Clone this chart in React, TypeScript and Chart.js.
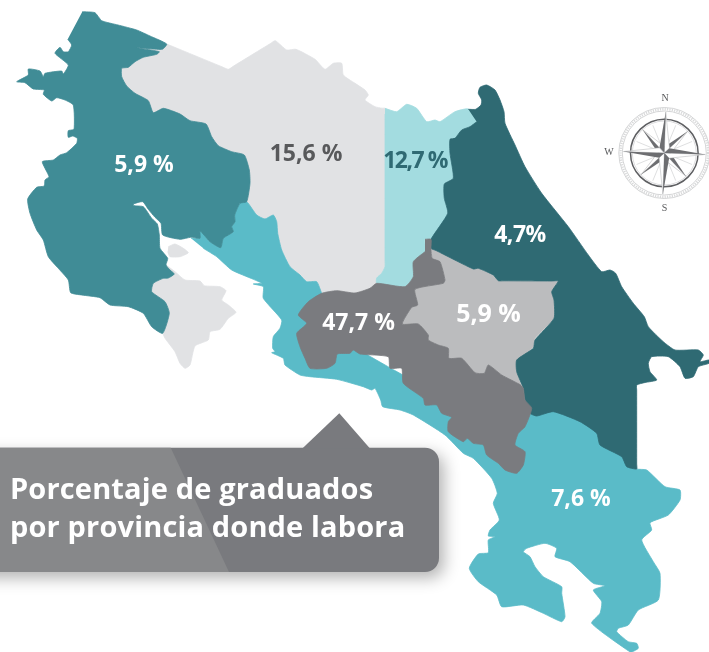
import React, { useEffect, useRef } from "react";
import { Chart, registerables } from "chart.js";

Chart.register(...registerables);

type Pt = [number, number];

const alajuelaMain: Pt[] = [[166.7,44],[172,46.2],[222,66.8],[228.3,69.3],[234,65.8],[270,43.8],[275.3,40.7],[286.7,50],[296,49.3],[315,59.3],[325,69.3],[333.3,63.3],[341.7,63.3],[343.3,75],[355,83.3],[365,90],[368.3,95],[365,100],[375,106.7],[382,108.2],[385,108.3],[385,114],[385,260],[385,266.7],[381.7,273.3],[376.7,278],[376.7,283.3],[370,288.3],[355,293],[336.7,290.7],[321.7,293.3],[316.7,281.7],[306.7,281.7],[300,275],[290,266.7],[281.7,250],[277.7,233.3],[276.7,221.7],[273.3,215],[265,219],[256.7,215],[246.7,201.7],[200,150],[140,110],[112,70],[135,46]];
const alajuelaIsland: Pt[] = [[168.3,246.7],[175,244],[183.3,248.3],[188.3,252.7],[180,256.7],[170,256.7],[167.7,251.7]];
const nicoyaSouth: Pt[] = [[166,265],[175,271.7],[185,280],[200,281],[204.3,285.7],[220,286.7],[226,290.7],[221.7,300],[228.3,305],[236,312.3],[228.3,318.3],[220,329.3],[210,331.7],[208.3,340],[195,346],[190,365],[185,368.3],[180,363.3],[175,351.7],[165,338.3],[162.7,333.3],[150,310],[150,285]];
const guanacaste: Pt[] = [[82.3,11.7],[95,12.7],[101.7,20.7],[118,25],[136.7,30],[150,36],[166.7,44],[162.3,49.3],[136.7,47.7],[159.3,51.7],[156.7,54.3],[143.3,57.3],[135,61.7],[128.3,67.3],[121.7,68.3],[121.7,76.7],[126.7,86],[135,93.3],[148.3,100.7],[153.3,112.7],[163.3,108.3],[180,114],[190,120.7],[206,124],[211.7,136.7],[218.3,145.7],[231.7,151.7],[244.3,155],[249.3,170],[250,183.3],[246.7,201.7],[240,203.3],[234.7,215],[235,221.7],[231.7,226.7],[233.3,231.7],[223.3,238.3],[220.7,247.7],[210,241.7],[204,235],[200,231],[200,238.3],[190.7,237.3],[180,239.3],[162.7,235],[161,223.3],[155,217.3],[148.3,209.3],[142.7,201.7],[133.3,204],[134,205.7],[143.3,206.7],[151.7,218.3],[157.3,224],[159.3,235],[160,248.3],[167.7,258.3],[166,265],[170,270],[174.3,274],[168.3,278],[163.3,278.3],[153.3,283.3],[151.7,291.7],[165,301.7],[169.3,313.3],[162.7,333.3],[151.7,326.7],[143.3,313.3],[128.3,306.7],[110,305],[100,297.7],[81.7,295],[70.7,292.7],[68.3,280],[58.3,268.3],[48.3,256.7],[43.3,240],[36.7,230],[30,213.3],[27.7,199],[36.7,187.3],[44.3,186],[45,180],[49,176.7],[42.3,161.7],[53.3,160],[60,155],[66.7,152.7],[76.7,143.3],[77.3,138.3],[72.7,136],[68.3,137.3],[68.3,130.7],[74,129.3],[73.3,105],[65,100],[56.7,97.7],[51.7,101],[43.3,94.3],[44.3,90],[33.3,89],[25,82.7],[16.7,81.7],[28.3,75],[28.3,69],[40,71],[43.3,76.7],[45,73.3],[61.7,71],[63.3,74],[68.3,65],[55,53.3],[60,47.3],[63.3,51.7],[68.3,51.7],[71.7,45],[67.7,39.3]];
const puntarenas: Pt[] = [[191,238.3],[200,238.3],[200,231],[204,235],[210,241.7],[220.7,247.7],[223.3,238.3],[233.3,231.7],[231.7,226.7],[235,221.7],[234.7,215],[240,203.3],[246.7,201.7],[256.7,215],[265,219],[273.3,215],[276.7,221.7],[277.7,233.3],[281.7,250],[290,266.7],[300,275],[306.7,281.7],[316.7,281.7],[321.7,293.3],[325,300],[345,340],[420,385],[470,420],[520,420],[540,400],[580,410],[610,440],[626.7,462],[636.7,469],[646.7,470],[665,486.7],[680,490],[680,500],[668.3,515],[650,522.7],[651.7,530],[641.7,540],[653.3,561.7],[660,573.3],[658.3,600],[638.3,610],[628.3,625],[618.3,628.3],[616.7,631.7],[628.3,641.7],[636.7,643.3],[638.3,648.3],[632,652],[630,652],[591.7,623.3],[600,613.3],[601.7,601.7],[593.3,590],[605,585.7],[593.3,583.3],[570,561.7],[555,556.7],[556.7,548.3],[545,543.3],[526.7,548.3],[523.3,551.7],[530,556.7],[535,566.7],[543.3,576.7],[561.7,586.7],[561.7,593.3],[565,616.7],[561.7,621.7],[543.3,613.3],[523.3,605],[501.7,606.7],[496.7,595],[478.3,581.7],[469.3,568.3],[478.3,554],[488.3,552.7],[488.3,540],[495,536.7],[488.3,536],[490,530],[499.3,520],[493.3,503.3],[497.3,493.3],[491.7,478.3],[473.3,458.3],[463.3,453.3],[445,435],[413.3,415],[400,410],[382.7,406.7],[380.7,400],[375,388.3],[371.7,390],[363.3,386.7],[336.7,379.3],[310,376.7],[300,375],[285,365],[283.3,358.3],[271.7,352.7],[275,351.7],[272.7,348.3],[273.3,336.7],[280,328.3],[281.7,320],[263.3,298.3],[263.3,286.7],[253.3,284],[261.7,283.3],[253.3,279.3],[231.7,270],[216.7,256.7],[203.3,248.3]];
const limon: Pt[] = [[468.3,109.3],[475.7,109.3],[481,105],[481.7,100],[478.3,93.3],[480,87.3],[486.7,85],[495,90],[500,100],[504,111.7],[505,123.3],[515,145],[525,166.7],[541.7,193.3],[568.3,226.7],[588.3,255],[601.7,271.7],[610,270],[615.7,273.3],[621.7,286.7],[633.3,303.3],[644.3,316.7],[648.3,326.7],[663.3,341.7],[675,350],[698.3,350],[703.3,355],[700,361.7],[709,360],[709,363.3],[698.3,366.7],[693.3,376.7],[685,378.3],[680,366.7],[668.3,356.7],[651.7,356.7],[648.3,363.3],[650,371.7],[656.7,380],[645,382.5],[636.7,385],[636.7,390],[636.7,464],[636.7,469],[626.7,466.7],[621.7,456.7],[600,445],[596.7,433.3],[580,421.7],[553.3,411.7],[536.7,416],[530,413.3],[525,400],[523.3,388.3],[516.7,371.7],[516.7,360],[533.3,348.3],[535,340],[554,318.3],[554,300],[551.7,291.7],[558.3,281],[552,281],[504,280.8],[498.3,280.7],[493.3,275],[478.3,268.3],[473.3,269],[436,250.5],[431,248.3],[431,239.3],[447.7,213.3],[444.3,198.3],[444.3,184],[453.3,178.3],[450,153.3],[450,139.3],[455,138.3],[461.7,130],[470,126.7],[476.7,121.7]];
const heredia: Pt[] = [[385,108.3],[396.7,111.7],[406.7,104.3],[416.7,108.3],[426.7,121.7],[435,120],[440,121.7],[455,111.7],[468.3,109],[476.7,121.7],[470,126.7],[461.7,130],[455,138.3],[450,139.3],[450,153.3],[453.3,178.3],[444.3,184],[444.3,198.3],[447.7,213.3],[431,239.3],[425,239.3],[425,251.7],[413.3,261.7],[413.3,276.7],[405,286.7],[376.7,283.3],[376.7,278],[381.7,273.3],[385,266.7],[385,260],[385,114]];
const cartago: Pt[] = [[431,248.3],[436,250.5],[473.3,269],[478.3,268.3],[493.3,275],[498.3,280.7],[504,280.8],[552,281],[558.3,281],[551.7,291.7],[554,300],[554,318.3],[535,338.3],[533.3,346.7],[517.3,361.7],[516.7,371.7],[520.7,385],[501.7,375],[488.3,365],[484.3,373.3],[475,372.7],[461.7,358.3],[449,358.3],[448.3,348.3],[438.3,345],[428.3,340],[428.3,335],[418.3,324],[402.3,324],[411.7,307.3],[417.7,305],[415,289.3],[443.3,283.3],[445,280],[440,261.7],[432.3,258.3]];
const sanJose: Pt[] = [[425,239.3],[431,239.3],[431,248.3],[432.3,258.3],[440,261.7],[445,280],[443.3,283.3],[415,289.3],[417.7,305],[411.7,307.3],[402.3,324],[418.3,324],[428.3,335],[428.3,340],[438.3,345],[448.3,348.3],[449,358.3],[461.7,358.3],[475,372.7],[484.3,373.3],[488.3,365],[501.7,375],[520.7,385],[523.3,388.3],[525,400],[531.7,408.3],[525,426.7],[518.3,433.3],[515,445],[525,451.7],[523.3,465],[516.7,473.3],[505,470],[498.3,463.3],[486.7,455],[483.3,445],[473.3,443.3],[467.3,438.3],[463.3,441.7],[448.3,431.7],[448.3,421.7],[451.7,417.3],[441.7,413.3],[436.7,405],[425,405],[423.3,398.3],[403.3,383.3],[401.7,368.3],[390,368.3],[388.3,356.7],[360,354],[353.3,350],[350,353.3],[337.3,354],[335,363.3],[326.7,368.3],[310,368.3],[305,358.3],[300,346.7],[296.7,333.3],[306.7,323.3],[298.3,315],[308.3,301.7],[321.7,293.3],[336.7,290.7],[355,293],[370,288.3],[376.7,283.3],[405,286.7],[413.3,276.7],[413.3,261.7],[425,251.7]];

const labelTexts = ["5,9 %", "15,6 %", "12,7 %", "4,7%", "5,9 %", "47,7 %", "7,6 %"];
const labelX = [144, 306, 415, 520, 488.5, 358.5, 581];
const labelY = [172, 161, 168, 242, 322, 330, 506];
const labelColors = ["#ffffff", "#58595b", "#2f6a73", "#ffffff", "#ffffff", "#ffffff", "#ffffff"];
const labelSpacing = ["0px", "0px", "-1.5px", "-0.5px", "0px", "0px", "0px"];
const labelSizes = [23, 23, 23, 23, 25, 23, 23];

const titleLines = ["Porcentaje de graduados", "por provincia donde labora"];
const compassLetters = ["N", "W", "S"];

// Chart.js paints the first dataset last, so the topmost province comes first.
const shapes: { name: string; pts: Pt[]; color: string }[] = [
  { name: "San José", pts: sanJose, color: "#7a7b7f" },
  { name: "Limón", pts: limon, color: "#2f6a73" },
  { name: "Cartago", pts: cartago, color: "#bbbcbe" },
  { name: "Heredia", pts: heredia, color: "#a3dce0" },
  { name: "Guanacaste", pts: guanacaste, color: "#408c96" },
  { name: "Puntarenas", pts: puntarenas, color: "#5abbc8" },
  { name: "Nicoya sur", pts: nicoyaSouth, color: "#e1e2e4" },
  { name: "Alajuela (isla)", pts: alajuelaIsland, color: "#e1e2e4" },
  { name: "Alajuela", pts: alajuelaMain, color: "#e1e2e4" },
];

const FONT = '"Open Sans", sans-serif';

function drawCompass(ctx: CanvasRenderingContext2D, cx: number, cy: number) {
  ctx.save();
  ctx.translate(cx, cy);
  ctx.strokeStyle = "#c9cacb";
  ctx.lineWidth = 0.8;
  ctx.beginPath(); ctx.arc(0, 0, 45.5, 0, Math.PI * 2); ctx.stroke();
  ctx.beginPath(); ctx.arc(0, 0, 42, 0, Math.PI * 2); ctx.stroke();
  ctx.setLineDash([1.2, 1.2]);
  ctx.lineWidth = 2.4;
  ctx.strokeStyle = "#d8d9da";
  ctx.beginPath(); ctx.arc(0, 0, 43.8, 0, Math.PI * 2); ctx.stroke();
  ctx.setLineDash([]);
  ctx.strokeStyle = "#5e5f62";
  ctx.lineWidth = 1.5;
  ctx.beginPath(); ctx.arc(0, 0, 33.8, 0, Math.PI * 2); ctx.stroke();
  ctx.strokeStyle = "#c4c5c7";
  ctx.lineWidth = 0.6;
  ctx.beginPath(); ctx.arc(0, 0, 32, 0, Math.PI * 2); ctx.stroke();

  const star = (angleDeg: number, len: number, half: number) => {
    ctx.save();
    ctx.rotate((angleDeg * Math.PI) / 180);
    ctx.fillStyle = "#ffffff";
    ctx.beginPath(); ctx.moveTo(0, -len); ctx.lineTo(half, -half); ctx.lineTo(0, 0); ctx.closePath(); ctx.fill();
    ctx.strokeStyle = "#b0b1b3"; ctx.lineWidth = 0.5; ctx.stroke();
    ctx.fillStyle = "#6d6e71";
    ctx.beginPath(); ctx.moveTo(0, -len); ctx.lineTo(-half, -half); ctx.lineTo(0, 0); ctx.closePath(); ctx.fill();
    ctx.restore();
  };
  [22.5, 67.5, 112.5, 157.5, 202.5, 247.5, 292.5, 337.5].forEach((a) => {
    ctx.save();
    ctx.rotate((a * Math.PI) / 180);
    ctx.strokeStyle = "#c4c5c7";
    ctx.lineWidth = 0.5;
    ctx.beginPath(); ctx.moveTo(0, 0); ctx.lineTo(0, -30); ctx.stroke();
    ctx.restore();
  });
  [47, 137, 227, 317].forEach((a) => star(a, 32, 4.5));
  [2, 92, 182, 272].forEach((a) => star(a, 41, 5));
  ctx.restore();
}

const mapText = {
  id: "mapText",
  beforeDatasetsDraw(chart: Chart) {
    const ctx = chart.ctx;
    const sx = chart.scales.x;
    const sy = chart.scales.y;
    const px = (v: number) => sx.getPixelForValue(v);
    const py = (v: number) => sy.getPixelForValue(v);
    ctx.save();
    ctx.shadowColor = "rgba(0,0,0,0.3)";
    ctx.shadowBlur = 16;
    ctx.shadowOffsetX = 5;
    ctx.shadowOffsetY = 6;
    ctx.fillStyle = "#797a7e";
    ctx.beginPath();
    ctx.roundRect(px(-30), py(447.7), 469, 124.3, 14);
    ctx.fill();
    ctx.restore();
    ctx.save();
    ctx.fillStyle = "#797a7e";
    ctx.beginPath();
    ctx.moveTo(px(302.3), py(448.5));
    ctx.lineTo(px(339.3), py(413.3));
    ctx.lineTo(px(370), py(448.5));
    ctx.closePath();
    ctx.fill();
    ctx.fillStyle = "#87888a";
    ctx.beginPath();
    ctx.moveTo(px(0), py(447.7));
    ctx.lineTo(px(170.7), py(447.7));
    ctx.lineTo(px(229), py(572));
    ctx.lineTo(px(0), py(572));
    ctx.closePath();
    ctx.fill();
    ctx.restore();
  },
  afterDatasetsDraw(chart: Chart) {
    const ctx = chart.ctx;
    const sx = chart.scales.x;
    const sy = chart.scales.y;
    ctx.save();
    ctx.textBaseline = "alphabetic";
    ctx.textAlign = "center";
    labelTexts.forEach((t, i) => {
      ctx.font = `700 ${labelSizes[i]}px ${FONT}`;
      ctx.fillStyle = labelColors[i];
      (ctx as any).letterSpacing = labelSpacing[i];
      ctx.fillText(t, sx.getPixelForValue(labelX[i]), sy.getPixelForValue(labelY[i]));
    });
    (ctx as any).letterSpacing = "0px";
    ctx.textAlign = "left";
    ctx.fillStyle = "#ffffff";
    ctx.font = `700 29px ${FONT}`;
    (ctx as any).letterSpacing = "0.15px";
    ctx.fillText(titleLines[0], sx.getPixelForValue(10), sy.getPixelForValue(499));
    ctx.fillText(titleLines[1], sx.getPixelForValue(10), sy.getPixelForValue(536.7));
    (ctx as any).letterSpacing = "0px";
    drawCompass(ctx, sx.getPixelForValue(664.3), sy.getPixelForValue(153));
    ctx.fillStyle = "#58595b";
    ctx.textAlign = "center";
    ctx.font = '10px "Liberation Serif", serif';
    ctx.fillText(compassLetters[0], sx.getPixelForValue(665), sy.getPixelForValue(101));
    ctx.fillText(compassLetters[1], sx.getPixelForValue(609), sy.getPixelForValue(155));
    ctx.fillText(compassLetters[2], sx.getPixelForValue(664.5), sy.getPixelForValue(211));
    ctx.restore();
  },
};

export default function App() {
  const ref = useRef<HTMLCanvasElement>(null);
  useEffect(() => {
    if (!ref.current) return;
    const chart = new Chart(ref.current, {
      type: "scatter",
      data: {
        datasets: shapes.map((s) => ({
          label: s.name,
          data: s.pts.map(([x, y]) => ({ x, y })),
          showLine: true,
          fill: "shape",
          backgroundColor: s.color,
          borderColor: s.color,
          borderWidth: 0.8,
          pointRadius: 0,
          pointHoverRadius: 0,
          tension: 0.18,
          clip: false,
        })),
      },
      options: {
        animation: false,
        responsive: false,
        events: [],
        layout: { padding: 0 },
        plugins: { legend: { display: false }, tooltip: { enabled: false }, title: { display: false } },
        scales: {
          x: { type: "linear", display: false, min: 0, max: 709 },
          y: { type: "linear", display: false, min: 0, max: 652, reverse: true },
        },
      } as any,
      plugins: [mapText as any],
    });
    return () => chart.destroy();
  }, []);
  return (
    <div style={{ position: "absolute", left: 0, top: 0, width: 709, height: 652, background: "#ffffff" }}>
      <canvas ref={ref} width={709} height={652} style={{ display: "block" }} />
    </div>
  );
}
